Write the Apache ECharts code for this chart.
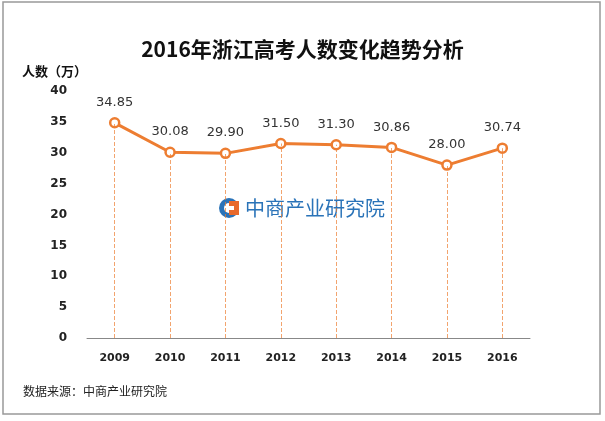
<!DOCTYPE html>
<html><head><meta charset="utf-8">
<script src="https://cdn.jsdelivr.net/npm/echarts@6/dist/echarts.min.js"></script>
<style>html,body{margin:0;padding:0;background:#fff}#c{width:605px;height:421px}</style>
</head><body><div id="c"></div>
<script>
var years = ['2009','2010','2011','2012','2013','2014','2015','2016'];
var values = [34.85, 30.08, 29.90, 31.50, 31.30, 30.86, 28.00, 30.74];
var yTicks = [0,5,10,15,20,25,30,35,40];

var chart = echarts.init(document.getElementById('c'));
var orange = '#ED7D31';
var drops = values.map(function(v,i){return [{coord:[i,0]},{coord:[i,v]}];});
chart.setOption({
  animation:false,
  backgroundColor:'#fff',
  title:{text:'2016年浙江高考人数变化趋势分析',left:'center',top:34,
    textStyle:{fontFamily:'Noto Sans CJK SC',fontSize:21,fontWeight:'bold',color:'#111'}},
  grid:{left:87,right:75,top:91,bottom:83},
  xAxis:{type:'category',data:years,boundaryGap:true,
    axisLine:{lineStyle:{color:'#888',width:1}},axisTick:{show:false},
    axisLabel:{margin:15,fontFamily:'DejaVu Sans',fontSize:11,fontWeight:'bold',color:'#222'}},
  yAxis:{type:'value',min:0,max:40,interval:5,
    axisLine:{show:false},axisTick:{show:false},splitLine:{show:false},
    axisLabel:{margin:20,fontFamily:'DejaVu Sans',fontSize:12,fontWeight:'bold',color:'#222',
      formatter:function(v){return yTicks.indexOf(v)>=0?String(v):'';}}},
  graphic:[
    {type:'rect',shape:{x:3,y:2,width:597,height:412},style:{fill:'none',stroke:'#999',lineWidth:1.5},z:-1},
    {type:'text',left:22,top:65,style:{text:'人数（万）',fontFamily:'Noto Sans CJK SC',fontSize:13,fontWeight:'bold',fill:'#111'}},
    {type:'text',left:23,top:385,style:{text:'数据来源：中商产业研究院',fontFamily:'Noto Sans CJK SC',fontSize:12,fill:'#222'}},
    {type:'group',left:219,top:198,children:[
      {type:'circle',shape:{cx:11,cy:11,r:10},style:{fill:'#2a73b8'}},
      {type:'circle',shape:{cx:11,cy:11,r:5},style:{fill:'#fff'}},
      {type:'rect',shape:{x:11,y:4,width:10,height:14},style:{fill:'#e8692c'}},
      {type:'rect',shape:{x:11,y:9,width:5,height:4},style:{fill:'#fff'}},
      {type:'text',x:27,y:1,style:{text:'中商产业研究院',fontFamily:'Noto Sans CJK SC',fontSize:20,fill:'#2a73b8'}}
    ]}
  ],
  series:[{
    type:'line',data:values,
    lineStyle:{color:orange,width:3},
    itemStyle:{color:'#fff',borderColor:orange,borderWidth:2.5},
    symbol:'circle',symbolSize:9,
    label:{show:true,position:'top',distance:8,formatter:function(p){return p.value.toFixed(2);},
      fontFamily:'DejaVu Sans',fontSize:13,color:'#333'},
    markLine:{silent:true,symbol:'none',label:{show:false},
      lineStyle:{color:orange,type:'dashed',width:1,opacity:0.7},
      data:drops},
    z:3
  }]
});
</script></body></html>
